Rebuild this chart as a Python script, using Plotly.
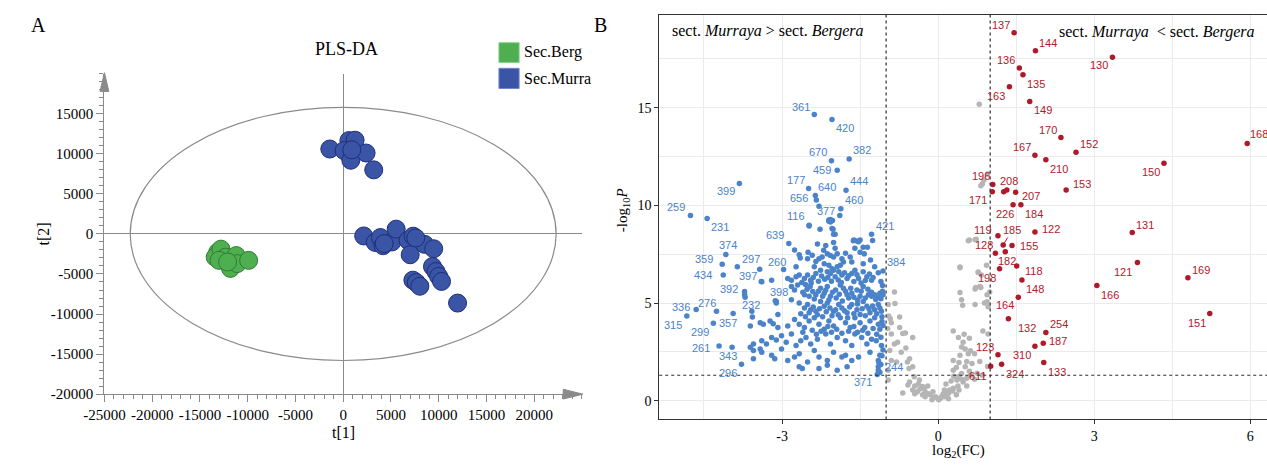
import plotly.graph_objects as go

# ---------------- Panel A : PLS-DA scores ----------------
berg_t1 = [-13140, -13400, -12800, -12300, -13000, -11800, -11200, -11100, -9900, -12100]
berg_t2 = [-2290, -2900, -1900, -2900, -3300, -4300, -2700, -3700, -3300, -3500]

murra_t1 = [-1400, 600, 1250, 100, 800, 2400, 3200, 900,
            2150, 3350, 3900, 4170, 5100, 5550, 6800, 7330, 8530, 9480, 7020,
            9350, 9720, 10000, 10300, 7300, 7660, 8030, 11980, 4300, 7600]
murra_t2 = [10600, 11650, 11700, 10400, 9200, 10100, 8000, 10500,
            -250, -1060, -450, -1470, -1000, 600, -800, -280, -1300, -1850, -2600,
            -4070, -4700, -5300, -5930, -5770, -6070, -6530, -8630, -1200, -500]

a_xtick_vals = [-25000, -20000, -15000, -10000, -5000, 0, 5000, 10000, 15000, 20000]
a_xtick_text = ["-25000", "-20000", "-15000", "-10000", "-5000", "0", "5000", "10000", "15000", "20000"]
a_ytick_vals = [-20000, -15000, -10000, -5000, 0, 5000, 10000, 15000]
a_ytick_text = ["-20000", "-15000", "-10000", "-5000", "0", "5000", "10000", "15000"]
ellipse_t1 = 22300
ellipse_t2 = 15800

# ---------------- Panel B : volcano ----------------
FC_THRESH = 1.0
P_LINE = 1.301  # -log10(0.05)

ns_fc = [-0.84, -0.96, -0.83, -0.95, -0.74, -0.90, -0.74, -0.90, -0.68, -0.63, -0.49, -0.84, -0.78, -0.93,
         -0.71, -0.90, -0.80, -0.55, -0.59, -0.49, -0.56, -0.96, -0.46, -0.96, -0.36, -0.30, -0.68, -0.49,
         -0.27, -0.15, -0.38, -0.20, -0.10, -0.05, 0.01, 0.05, 0.10, 0.17, 0.22, 0.29, 0.15, 0.25, 0.36,
         0.45, 0.30, 0.45, 0.29, 0.35, 0.52, 0.60, 0.75, 0.70, 0.85, 0.40, 0.55, 0.65, 0.80, 0.95, 0.29,
         0.42, 0.58, 0.70, 0.45, 0.62, 0.52, 0.48, 0.39, 0.60, 0.50, 0.29, 0.86, 0.96, 0.47, 0.45, 0.71,
         0.89, 0.94, 0.96, 0.94, 0.99, 0.42, 0.80, 0.71, 0.72, 0.82, 0.42, 0.42, 0.77, 0.77, 0.93, 0.83,
         0.58, 0.60, 0.71, 0.73, 0.82, 0.85, 0.88, 0.95, 0.79, -0.58, -0.40, 0.40, 0.55, -0.92, -0.97,
         -0.62, -0.45, 0.35, -0.25, 0.20, -0.12, 0.08, -0.55, -0.45, -0.35, -0.25, -0.18, -0.08, 0.03,
         0.12, 0.20, 0.28, 0.38, 0.48, 0.55, 0.62, 0.12, -0.30, 0.40]
ns_p = [5.56, 4.92, 4.97, 4.33, 4.28, 3.99, 3.74, 3.41, 3.44, 3.46, 3.24, 2.90, 2.99, 2.57,
        2.48, 2.06, 1.98, 2.15, 1.98, 1.73, 1.65, 1.56, 1.23, 1.06, 1.06, 0.72, 0.39, 0.55,
        0.64, 0.30, 0.85, 0.75, 0.45, 0.20, 0.05, 0.15, 0.35, 0.30, 0.55, 0.64, 0.85, 1.00, 1.06,
        1.10, 1.25, 1.39, 1.56, 1.70, 1.73, 1.50, 1.40, 1.10, 1.30, 1.95, 2.00, 1.90, 2.00, 1.75, 2.06,
        2.32, 2.40, 2.40, 2.75, 2.55, 2.65, 2.99, 3.24, 3.20, 3.40, 3.57, 3.57, 3.41, 4.88, 5.17, 4.92,
        5.00, 5.06, 4.81, 5.42, 5.56, 5.54, 5.84, 5.72, 5.80, 5.80, 6.84, 6.81, 6.59, 6.56, 6.93, 6.43,
        8.19, 8.22, 8.24, 8.27, 11.00, 11.10, 11.30, 11.60, 15.18, 0.80, 0.45, 0.55, 0.75, 4.20, 3.70,
        2.70, 0.35, 0.30, 0.20, 0.10, 0.05, 0.25, 0.95, 0.75, 0.60, 0.45, 0.35, 0.15, 0.10,
        0.20, 0.38, 0.50, 0.75, 0.95, 1.15, 1.30, 0.55, 0.30, 1.25]

down_fc = [-2.48, -2.27, -2.10, -2.07, -2.02, -2.01, -2.76, -2.32, -2.16, -2.01, -1.63, -1.53, -1.44, -1.42,
           -2.65, -2.67, -2.51, -2.35, -2.29, -2.23, -2.13, -2.07, -2.01, -1.94, -1.85, -1.82, -1.69, -1.66,
           -1.44, -2.73, -2.38, -2.19, -2.10, -2.04, -1.94, -1.88, -2.89, -2.82, -2.73, -2.67, -2.57, -2.51,
           -2.45, -2.35, -2.26, -2.13, -2.07, -2.01, -1.91, -1.85, -1.75, -1.66, -1.60, -1.53, -1.44, -1.37,
           -1.28, -3.20, -3.39, -3.86, -2.82, -2.76, -2.70, -2.57, -2.48, -2.41, -2.35, -2.26, -2.19, -2.13,
           -2.07, -1.97, -1.88, -1.82, -1.75, -1.66, -1.56, -1.50, -1.44, -1.34, -1.28, -1.22, -1.12, -1.06,
           -2.82, -2.67, -2.57, -2.51, -2.45, -2.35, -2.26, -2.19, -2.13, -2.01, -1.91, -1.85, -1.75, -1.66,
           -1.56, -1.50, -1.44, -1.37, -1.31, -1.22, -1.15, -1.09, -3.58, -3.08, -2.76, -2.67, -2.57, -2.48,
           -2.38, -2.29, -2.19, -2.10, -2.01, -1.88, -1.78, -1.69, -1.60, -1.50, -1.41, -1.31, -1.22, -1.15,
           -1.12, -3.61, -3.42, -3.36, -3.23, -3.17, -3.08, -2.89, -3.20, -3.11, -3.01, -2.92, -2.82, -2.73,
           -2.64, -2.54, -2.45, -2.32, -2.16, -2.07, -1.94, -1.78, -1.66, -1.60, -1.47, -1.37, -1.28, -1.19,
           -1.09, -3.55, -3.39, -3.30, -3.61, -3.55, -3.42, -3.39, -3.20, -3.14, -3.01, -2.89, -2.76, -2.67,
           -2.51, -2.38, -2.29, -2.13, -2.01, -1.85, -1.78, -1.66, -1.53, -1.31, -1.15, -1.12, -3.55, -2.67,
           -2.61, -2.29, -2.13, -1.94, -1.75, -1.15, -1.12,
           -1.89, -2.29, -2.04, -1.98, -1.62, -1.56, -1.50, -2.07, -2.03, -2.10, -3.72, -3.71, -3.13, -3.11,
           -2.62, -2.55, -2.44, -2.40, -2.30, -2.24, -2.18, -2.12, -2.05, -1.98, -1.92, -1.86, -1.80, -1.72,
           -1.62, -1.56, -1.48, -1.40, -1.32, -1.25,
           -2.60, -2.52, -2.46, -2.38, -2.30, -2.22, -2.16, -2.10, -2.03, -1.96, -1.90, -1.84, -1.78, -1.72,
           -1.68, -1.62, -1.55, -1.48, -1.40, -1.35, -1.28, -1.20, -1.16, -1.10, -1.07,
           -2.64, -2.55, -2.48, -2.40, -2.32, -2.28, -2.22, -2.15, -2.08, -2.04, -1.97, -1.92, -1.80, -1.74,
           -1.70, -1.62, -1.55, -1.46, -1.40, -1.33, -1.26, -1.18, -1.12, -1.08,
           -2.60, -2.42, -2.34, -2.25, -2.12, -2.05, -1.95, -1.85, -1.72, -1.62, -1.55, -1.45, -1.35, -1.25,
           -1.18,
           -2.50, -2.42, -2.20, -1.98, -1.78, -1.60, -1.50, -1.36, -1.30, -1.22, -1.15, -1.10, -1.07,
           -1.08, -1.06, -1.10, -1.06, -1.08, -1.14, -1.10, -1.26]
down_p = [8.94, 8.78, 9.19, 9.28, 8.78, 8.52, 7.72, 8.02, 7.94, 8.10, 8.19, 8.14, 7.85, 7.52,
          7.30, 7.47, 7.27, 7.13, 7.27, 7.35, 7.52, 7.43, 7.35, 7.52, 7.27, 7.10, 7.35, 7.10,
          7.01, 6.85, 6.85, 7.01, 6.93, 6.76, 6.85, 6.93, 6.26, 6.17, 6.34, 6.43, 6.26, 6.43,
          6.17, 6.51, 6.68, 6.60, 6.51, 6.68, 6.60, 6.43, 6.26, 6.51, 6.68, 6.26, 6.60, 6.34,
          6.17, 6.17, 6.09, 6.85, 5.84, 5.67, 5.92, 5.42, 5.34, 5.59, 5.42, 5.76, 5.50, 5.84,
          5.34, 5.67, 5.92, 5.76, 5.42, 5.50, 5.67, 5.34, 5.84, 5.42, 5.34, 5.42, 5.50, 5.42,
          5.17, 5.00, 4.75, 4.92, 4.66, 4.58, 5.08, 4.83, 5.00, 4.58, 4.92, 4.75, 4.50, 4.92,
          4.66, 4.41, 5.08, 4.83, 4.50, 4.66, 4.92, 4.58, 4.58, 4.41, 4.16, 3.91, 3.74, 4.08,
          4.24, 3.91, 3.66, 4.08, 3.82, 4.24, 3.99, 3.74, 4.24, 3.99, 3.74, 4.08, 4.24, 3.91,
          3.66, 3.82, 3.99, 3.91, 4.08, 3.94, 3.74, 3.82, 3.24, 3.10, 3.32, 2.99, 3.41, 2.82,
          3.07, 3.24, 2.90, 3.15, 3.41, 2.90, 3.24, 3.07, 2.82, 3.41, 3.24, 2.90, 3.15, 3.07,
          2.82, 2.90, 3.07, 2.90, 2.73, 2.57, 2.65, 2.48, 2.32, 2.15, 2.65, 2.06, 2.23, 2.40,
          1.98, 2.57, 2.23, 2.06, 2.48, 2.23, 2.32, 2.06, 2.23, 2.48, 2.06, 2.32, 2.15, 1.73,
          1.64, 1.64, 1.81, 1.56, 1.73, 1.73, 1.45,
          9.48, 9.95, 8.81, 8.52, 8.22, 8.18, 8.22, 9.15, 9.22, 9.25, 5.42, 5.29, 5.12, 5.00,
          6.05, 5.95, 6.02, 6.30, 6.12, 6.38, 6.22, 6.30, 6.12, 6.35, 6.18, 6.05, 6.55, 6.40,
          6.10, 6.45, 6.02, 6.15, 6.48, 6.30,
          5.55, 5.70, 5.85, 5.20, 5.60, 5.35, 5.65, 5.15, 5.55, 5.25, 5.45, 5.10, 5.60, 5.25,
          5.75, 5.30, 5.15, 5.60, 5.25, 5.70, 5.55, 5.18, 5.30, 5.22, 5.60,
          4.45, 4.30, 4.50, 4.80, 4.40, 4.70, 4.30, 4.55, 4.75, 4.35, 4.65, 4.40, 4.60, 4.25,
          4.80, 4.45, 4.95, 4.70, 4.35, 4.70, 4.85, 4.45, 4.75, 4.30,
          3.50, 3.60, 3.40, 3.55, 3.80, 3.50, 3.65, 3.45, 3.55, 3.80, 3.50, 3.60, 3.45, 3.70,
          3.40,
          7.60, 7.45, 7.70, 7.80, 7.55, 7.80, 7.60, 7.85, 7.20, 6.85, 6.55, 6.10, 5.90,
          4.05, 3.85, 3.25, 2.60, 2.30, 1.95, 1.85, 8.20]

down_lab_id = ["361", "420", "670", "382", "459", "177", "444", "656", "640", "460", "377", "116", "639",
               "421", "399", "259", "231", "374", "359", "434", "297", "397", "392", "260", "398", "232",
               "336", "276", "315", "299", "357", "261", "343", "296", "384", "244", "371"]
down_lab_fc = [-2.38, -2.04, -2.05, -1.71, -1.94, -2.49, -1.77, -2.36, -2.34, -1.87, -2.07, -2.48, -2.87,
               -1.28, -3.82, -4.76, -4.44, -4.08, -4.15, -4.13, -3.43, -3.40, -3.72, -2.97, -3.11, -3.57,
               -4.65, -4.26, -4.83, -4.32, -3.94, -4.21, -3.96, -3.78, -1.06, -1.15, -1.17]
down_lab_p = [14.65, 14.39, 12.28, 12.37, 11.80, 10.86, 10.77, 10.50, 10.27, 9.82, 9.20, 8.98, 8.05,
              8.52, 11.12, 9.48, 9.33, 7.48, 6.98, 6.43, 6.73, 6.10, 5.59, 6.71, 5.08, 4.28,
              4.67, 4.58, 4.33, 3.96, 4.46, 2.80, 2.74, 1.86, 6.64, 1.56, 1.34]

up_fc = [1.26]
up_p = [10.70]
up_lab_id = ["137", "144", "130", "136", "135", "163", "149", "170", "152", "167", "210", "150", "168",
             "196", "208", "171", "207", "226", "184", "153", "131", "121", "169", "166", "151", "119",
             "185", "122", "128", "155", "182", "198", "118", "148", "164", "132", "254", "187", "310",
             "123", "324", "133", "611"]
up_lab_fc = [1.46, 1.87, 3.35, 1.56, 1.63, 1.37, 1.76, 2.36, 2.65, 1.86, 2.07, 4.34, 5.94,
             1.05, 1.32, 1.04, 1.49, 1.44, 1.59, 2.46, 3.73, 3.83, 4.80, 3.05, 5.22, 1.15,
             1.25, 1.86, 1.10, 1.42, 1.29, 1.18, 1.51, 1.61, 1.54, 1.35, 2.07, 2.02, 1.86,
             1.15, 1.22, 2.03, 1.01]
up_lab_p = [18.84, 17.92, 17.58, 17.03, 16.69, 16.07, 15.32, 13.47, 12.72, 12.57, 12.33, 12.16, 13.17,
            11.07, 10.79, 10.70, 10.67, 10.03, 10.03, 10.79, 8.61, 7.07, 6.29, 5.89, 4.46, 8.44,
            7.97, 8.64, 7.55, 7.94, 7.63, 6.76, 6.90, 6.18, 5.30, 4.20, 3.49, 2.94, 2.79,
            2.35, 1.86, 1.95, 1.76]

b_xtick_vals = [-3, 0, 3, 6]
b_xtick_text = ["-3", "0", "3", "6"]
b_ytick_vals = [0, 5, 10, 15]
b_ytick_text = ["0", "5", "10", "15"]

# label placement (pixel offsets of label centre from its point; style only)
label_offset = {
    "361": (-13, 8), "420": (13, -8), "670": (-13, 9), "382": (13, 9), "459": (-15, 0), "177": (-13, 9),
    "444": (13, 9), "656": (-16, -2), "640": (11, 13), "460": (13, 9), "377": (-4, 10), "116": (-13, 9),
    "639": (-14, 8), "421": (13, 8), "399": (-13, -8), "259": (-14, 9), "231": (13, -9), "374": (2, 10),
    "359": (-18, 5), "434": (-20, 0), "297": (-9, 10), "397": (-13, 6), "392": (-16, 2), "260": (-7, 8),
    "398": (3, 9), "232": (-1, 12), "336": (-15, 2), "276": (-9, 8), "315": (-14, -9), "299": (-13, -9),
    "357": (-5, -9), "261": (-18, -2), "343": (-4, -9), "296": (-13, -9), "384": (13, 9), "244": (16, 3),
    "371": (-14, -8),
    "137": (-13, 8), "144": (13, 8), "130": (-13, -8), "136": (-13, 8), "135": (13, -9), "163": (-13, -9),
    "149": (13, -9), "170": (-13, 8), "152": (13, 8), "167": (-13, 8), "210": (13, -9), "150": (-13, -9),
    "168": (12, 9), "196": (-12, 8), "208": (2, 9), "171": (-14, -8), "207": (15, -4), "226": (-8, -9),
    "184": (13, -9), "153": (16, 6), "131": (13, 8), "121": (-14, -9), "169": (13, 8), "166": (13, -9),
    "151": (-13, -9), "119": (-15, 6), "185": (9, 15), "122": (16, 3), "128": (-11, 8), "155": (17, 0),
    "182": (2, -9), "198": (-13, -9), "118": (17, -5), "148": (13, -9), "164": (-13, -8), "132": (19, -9),
    "254": (13, 8), "187": (15, 2), "310": (-13, -9), "123": (-13, 8), "324": (13, -10), "133": (13, -9),
    "611": (-13, -10),
}
leader_ids = {"185"}

# ---------------- styles ----------------
W, H = 1267, 468
SERIF = "Liberation Serif"
SANS = "Liberation Sans"
AXGREY = "#8a8a8a"
GREEN, GREEN_EDGE = "#4fae50", "#2f7d34"
BLUE, BLUE_EDGE = "#3a54a6", "#1f2f78"
DOWN_COL = "#4a83c9"
UP_COL = "#b0192a"
NS_COL = "#b5b5b5"
THRESH_COL = "#2e2e2e"

# panel A plotting box in pixels
A_LEFT, A_RIGHT, A_BOTTOM, A_TOP = 84.85, 570.35, 401.0, 75.0
# panel B plotting box in pixels
B_LEFT, B_BOTTOM, B_TOP = 649.0, 426.7, 15.0


def px_x(p):
    return p / W


def px_y(p):
    return (H - p) / H


def tri(points):
    return "M " + " L ".join("%.5f,%.5f" % (px_x(a), px_y(b)) for a, b in points) + " Z"


fig = go.Figure()

# Panel A traces
fig.add_trace(go.Scatter(x=berg_t1, y=berg_t2, mode="markers", xaxis="x", yaxis="y", showlegend=False,
                         name="Sec.Berg",
                         marker=dict(size=18, color=GREEN, line=dict(color=GREEN_EDGE, width=1))))
fig.add_trace(go.Scatter(x=murra_t1, y=murra_t2, mode="markers", xaxis="x", yaxis="y", showlegend=False,
                         name="Sec.Murra",
                         marker=dict(size=18, color=BLUE, line=dict(color=BLUE_EDGE, width=1))))

# Panel B traces
fig.add_trace(go.Scatter(x=ns_fc, y=ns_p, mode="markers", xaxis="x2", yaxis="y2", showlegend=False,
                         marker=dict(size=5.5, color=NS_COL)))
fig.add_trace(go.Scatter(x=down_fc + down_lab_fc, y=down_p + down_lab_p, mode="markers", xaxis="x2",
                         yaxis="y2", showlegend=False, marker=dict(size=5.5, color=DOWN_COL)))
fig.add_trace(go.Scatter(x=up_fc + up_lab_fc, y=up_p + up_lab_p, mode="markers", xaxis="x2",
                         yaxis="y2", showlegend=False, marker=dict(size=5.5, color=UP_COL)))

annotations = []
for ids, xs, ys, col in [(down_lab_id, down_lab_fc, down_lab_p, DOWN_COL),
                         (up_lab_id, up_lab_fc, up_lab_p, UP_COL)]:
    for i, xv, yv in zip(ids, xs, ys):
        dx, dy = label_offset[i]
        if i in leader_ids:
            annotations.append(dict(x=xv, y=yv, xref="x2", yref="y2", text=i, showarrow=True,
                                    ax=dx, ay=-dy, arrowhead=0, arrowwidth=1, arrowcolor=col,
                                    standoff=2, font=dict(family=SANS, size=11, color=col)))
        else:
            annotations.append(dict(x=xv, y=yv, xref="x2", yref="y2", text=i, showarrow=False,
                                    xshift=dx, yshift=dy, font=dict(family=SANS, size=11, color=col)))

paper_text = [
    ("A", 18, 25, 20, SERIF, "center", 0),
    ("B", 589, 25, 20, SERIF, "center", 0),
    ("PLS-DA", 331, 50, 18, SERIF, "center", 0),
    ("t[1]", 327.6, 440, 16, SERIF, "center", 0),
    ("t[2]", 23, 238, 16, SERIF, "center", -90),
    ("Sec.Berg", 509.6, 53.3, 16, SERIF, "left", 0),
    ("Sec.Murra", 509.6, 79.5, 16, SERIF, "left", 0),
    ("log<sub>2</sub>(FC)", 953, 459, 15, SERIF, "center", 0),
    ("-log<sub>10</sub><i>P</i>", 612, 214, 15, SERIF, "center", -90),
    ("sect. <i>Murraya</i> &gt; sect. <i>Bergera</i>", 660, 32, 16, SERIF, "left", 0),
    ("sect. <i>Murraya</i>  &lt; sect. <i>Bergera</i>", 1257, 33, 16, SERIF, "right", 0),
]
for txt, xp, yp, sz, fam, anc, ang in paper_text:
    annotations.append(dict(x=px_x(xp), y=px_y(yp), xref="paper", yref="paper", text=txt, showarrow=False,
                            xanchor=anc, yanchor="middle", textangle=ang,
                            font=dict(family=fam, size=sz, color="black")))

shapes = [
    # PLS-DA confidence ellipse
    dict(type="circle", xref="x", yref="y", x0=-ellipse_t1, x1=ellipse_t1, y0=-ellipse_t2, y1=ellipse_t2,
         line=dict(color=AXGREY, width=1.2), layer="below"),
    # axis arrowheads (paper coordinates, derived from the axis box)
    dict(type="path", xref="paper", yref="paper",
         path=tri([(A_RIGHT - 19, A_BOTTOM - 5), (A_RIGHT + 1, A_BOTTOM), (A_RIGHT - 19, A_BOTTOM + 5)]),
         fillcolor=AXGREY, line=dict(color=AXGREY, width=1)),
    dict(type="path", xref="paper", yref="paper",
         path=tri([(A_LEFT - 4.5, A_TOP + 18), (A_LEFT, A_TOP - 1), (A_LEFT + 4.5, A_TOP + 18)]),
         fillcolor=AXGREY, line=dict(color=AXGREY, width=1)),
    # legend keys
    dict(type="rect", xref="paper", yref="paper", x0=px_x(486), x1=px_x(506.5), y0=px_y(63.5), y1=px_y(43.5),
         fillcolor=GREEN, line=dict(color="#7fcf7f", width=1)),
    dict(type="rect", xref="paper", yref="paper", x0=px_x(486), x1=px_x(506.5), y0=px_y(90), y1=px_y(69.5),
         fillcolor=BLUE, line=dict(color="#6f86cf", width=1)),
    # volcano thresholds
    dict(type="line", xref="x2", yref="y2 domain", x0=-FC_THRESH, x1=-FC_THRESH, y0=0, y1=1,
         line=dict(color=THRESH_COL, width=1.2, dash="dot")),
    dict(type="line", xref="x2", yref="y2 domain", x0=FC_THRESH, x1=FC_THRESH, y0=0, y1=1,
         line=dict(color=THRESH_COL, width=1.2, dash="dot")),
    dict(type="line", xref="x2 domain", yref="y2", x0=0, x1=1, y0=P_LINE, y1=P_LINE,
         line=dict(color=THRESH_COL, width=1.2, dash="dot")),
]

fig.update_layout(
    width=W, height=H, margin=dict(l=0, r=0, t=0, b=0),
    paper_bgcolor="white", plot_bgcolor="white", showlegend=False,
    annotations=annotations, shapes=shapes,
    xaxis=dict(domain=[px_x(A_LEFT), px_x(A_RIGHT)], range=[-25000, 25000], showgrid=False,
               zeroline=True, zerolinecolor=AXGREY, zerolinewidth=1.2,
               showline=True, linecolor=AXGREY, linewidth=1.2,
               ticks="outside", ticklen=7, tickcolor=AXGREY, tickwidth=1,
               tickvals=a_xtick_vals, ticktext=a_xtick_text,
               tickfont=dict(family=SERIF, size=15, color="black"),
               minor=dict(dtick=1000, ticks="outside", ticklen=4, tickcolor=AXGREY, showgrid=False),
               fixedrange=True),
    yaxis=dict(domain=[px_y(A_BOTTOM), px_y(A_TOP)], range=[-20000, 20000], showgrid=False,
               zeroline=True, zerolinecolor=AXGREY, zerolinewidth=1.2,
               showline=True, linecolor=AXGREY, linewidth=1.2,
               ticks="outside", ticklen=7, tickcolor=AXGREY, tickwidth=1,
               tickvals=a_ytick_vals, ticktext=a_ytick_text,
               tickfont=dict(family=SERIF, size=15, color="black"),
               minor=dict(dtick=1000, ticks="outside", ticklen=4, tickcolor=AXGREY, showgrid=False),
               fixedrange=True),
    xaxis2=dict(domain=[px_x(B_LEFT), 1.0], range=[-5.36, 6.32], anchor="y2",
                showgrid=True, gridcolor="#ebebeb", gridwidth=1, zeroline=False,
                showline=True, mirror=True, linecolor="#333333", linewidth=1,
                ticks="outside", ticklen=4, tickcolor="#333333",
                tickvals=b_xtick_vals, ticktext=b_xtick_text,
                tickfont=dict(family=SERIF, size=14, color="black"),
                minor=dict(dtick=1.5, tick0=0, showgrid=True, gridcolor="#ebebeb", gridwidth=1, ticks=""),
                fixedrange=True),
    yaxis2=dict(domain=[px_y(B_BOTTOM), px_y(B_TOP)], range=[-0.96, 19.76], anchor="x2",
                showgrid=True, gridcolor="#ebebeb", gridwidth=1, zeroline=False,
                showline=True, mirror=False, linecolor="#333333", linewidth=1,
                ticks="outside", ticklen=4, tickcolor="#333333",
                tickvals=b_ytick_vals, ticktext=b_ytick_text,
                tickfont=dict(family=SERIF, size=14, color="black"),
                minor=dict(dtick=2.5, tick0=0, showgrid=True, gridcolor="#ebebeb", gridwidth=1, ticks=""),
                fixedrange=True),
)

fig.write_html("out.html")
